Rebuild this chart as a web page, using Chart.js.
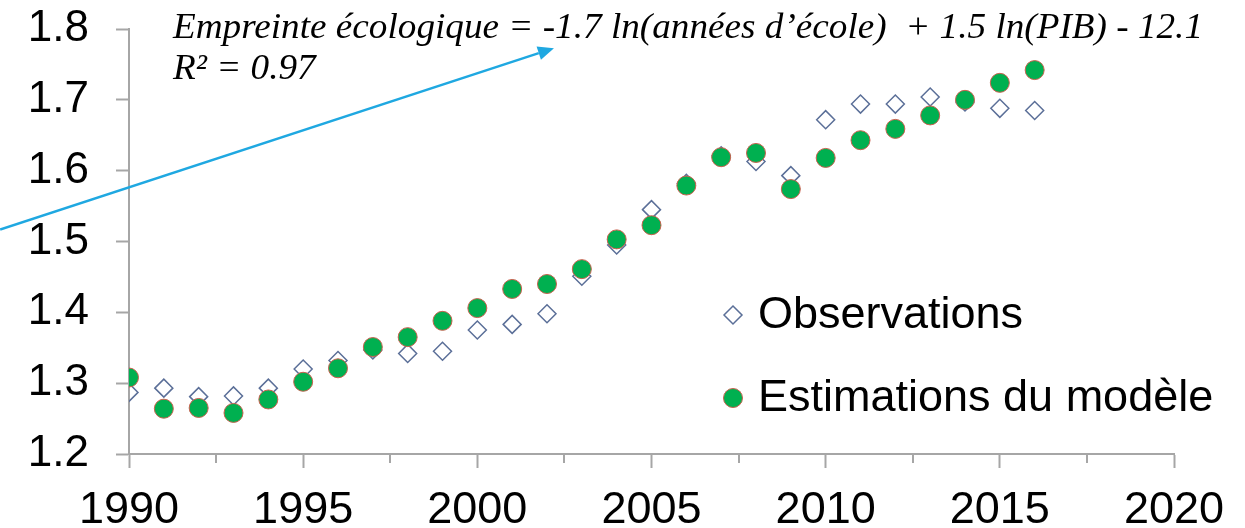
<!DOCTYPE html>
<html>
<head>
<meta charset="utf-8">
<script src="https://cdn.jsdelivr.net/npm/chart.js@4/dist/chart.umd.min.js"></script>
<style>
    html, body { margin: 0; padding: 0; background: #fff; }
    #wrap { width: 1245px; height: 528px; position: relative; }
</style>
</head>
<body>
<div id="wrap"><canvas id="footprintChart"></canvas></div>
<script>
// years 1990 - 2016
const years = [1990, 1991, 1992, 1993, 1994, 1995, 1996, 1997, 1998, 1999, 2000, 2001, 2002, 2003,
    2004, 2005, 2006, 2007, 2008, 2009, 2010, 2011, 2012, 2013, 2014, 2015, 2016];
const observations = [1.287, 1.293, 1.281, 1.282, 1.293, 1.320, 1.332, 1.347, 1.342, 1.345, 1.375, 1.383, 1.398, 1.451,
    1.495, 1.545, 1.582, 1.621, 1.613, 1.593, 1.672, 1.694, 1.694, 1.704, 1.697, 1.688, 1.685];
const estimations = [1.308, 1.264, 1.265, 1.258, 1.277, 1.302, 1.321, 1.351, 1.365, 1.388, 1.406, 1.433, 1.440, 1.461,
    1.503, 1.523, 1.579, 1.619, 1.625, 1.574, 1.618, 1.643, 1.659, 1.678, 1.700, 1.724, 1.742];
const seriesLabels = ['Observations', 'Estimations du modèle'];
const xRange = [1990, 2020];
const yRange = [1.2, 1.8];

const equationText = 'Empreinte écologique = -1.7 ln(années d’école)  + 1.5 ln(PIB) - 12.1';
const r2Text = 'R² = 0.97';
// arrow in data units (tail outside the plot on the left)
const arrowFrom = { x: 1986.3, y: 1.517 };
const arrowTo = { x: 2002.2, y: 1.773 };

const axisColor = '#a6a6a6';
const toPoints = (vals) => vals.map((v, i) => ({ x: years[i], y: v }));

// minor x ticks, legend, equation and arrow
const extrasPlugin = {
    id: 'extras',
    afterDraw(chart) {
        const ctx = chart.ctx;
        const xs = chart.scales.x, ys = chart.scales.y;
        const bottom = chart.chartArea.bottom;

        ctx.save();
        ctx.strokeStyle = axisColor;
        ctx.lineWidth = 2;
        for (let v = xRange[0] + 2.5; v < xRange[1]; v += 5) {
            const px = Math.round(xs.getPixelForValue(v));
            ctx.beginPath();
            ctx.moveTo(px, bottom);
            ctx.lineTo(px, bottom + 9);
            ctx.stroke();
        }
        ctx.restore();

        // legend
        ctx.save();
        chart.data.datasets.forEach((ds, i) => {
            const cy = 315 + i * 83;
            ctx.beginPath();
            if (ds.pointStyle === 'rectRot') {
                ctx.moveTo(733, cy - 9); ctx.lineTo(742, cy); ctx.lineTo(733, cy + 9); ctx.lineTo(724, cy);
                ctx.closePath();
            } else {
                ctx.arc(733, cy, 9.5, 0, Math.PI * 2);
            }
            ctx.fillStyle = ds.backgroundColor;
            ctx.fill();
            ctx.lineWidth = ds.borderWidth;
            ctx.strokeStyle = ds.borderColor;
            ctx.stroke();
            ctx.fillStyle = '#000';
            ctx.font = '45px "Liberation Sans", Arial, sans-serif';
            ctx.textBaseline = 'middle';
            ctx.textAlign = 'left';
            ctx.fillText(ds.label, 758, cy + 1);
        });
        ctx.restore();

        // equation text (stretched horizontally to the original width)
        ctx.save();
        ctx.font = 'italic 35px "Liberation Serif", "Times New Roman", serif';
        ctx.fillStyle = '#000';
        ctx.textBaseline = 'alphabetic';
        const sx = 1030 / ctx.measureText(equationText).width;
        ctx.translate(173, 0);
        ctx.scale(sx, 1);
        ctx.fillText(equationText, 0, 38);
        ctx.fillText(r2Text, 0, 79);
        ctx.restore();

        // arrow
        const x0 = xs.getPixelForValue(arrowFrom.x), y0 = ys.getPixelForValue(arrowFrom.y);
        const x1 = xs.getPixelForValue(arrowTo.x), y1 = ys.getPixelForValue(arrowTo.y);
        const ang = Math.atan2(y1 - y0, x1 - x0);
        const headLen = 16, headW = 7;
        ctx.save();
        ctx.strokeStyle = '#1fa8e1';
        ctx.fillStyle = '#1fa8e1';
        ctx.lineWidth = 2.5;
        ctx.beginPath();
        ctx.moveTo(x0, y0);
        ctx.lineTo(x1 - Math.cos(ang) * headLen, y1 - Math.sin(ang) * headLen);
        ctx.stroke();
        ctx.beginPath();
        ctx.moveTo(x1, y1);
        ctx.lineTo(x1 - Math.cos(ang) * headLen - Math.sin(ang) * headW, y1 - Math.sin(ang) * headLen + Math.cos(ang) * headW);
        ctx.lineTo(x1 - Math.cos(ang) * headLen + Math.sin(ang) * headW, y1 - Math.sin(ang) * headLen - Math.cos(ang) * headW);
        ctx.closePath();
        ctx.fill();
        ctx.restore();
    }
};

new Chart(document.getElementById('footprintChart'), {
    type: 'scatter',
    data: {
        datasets: [
            {
                label: seriesLabels[0],
                data: toPoints(observations),
                pointStyle: 'rectRot',
                pointRadius: 9,
                pointHoverRadius: 9,
                backgroundColor: 'rgba(255,255,255,0)',
                borderColor: '#5b6f98',
                borderWidth: 1.5,
                order: 2
            },
            {
                label: seriesLabels[1],
                data: toPoints(estimations),
                pointStyle: 'circle',
                pointRadius: 9.5,
                pointHoverRadius: 9.5,
                backgroundColor: '#00b050',
                borderColor: '#c8604e',
                borderWidth: 1,
                order: 1
            }
        ]
    },
    options: {
        responsive: true,
        maintainAspectRatio: false,
        animation: false,
        layout: { padding: { top: 29, right: 71, left: 0, bottom: 0 } },
        plugins: { legend: { display: false }, tooltip: { enabled: false } },
        scales: {
            x: {
                type: 'linear',
                min: xRange[0],
                max: xRange[1],
                afterFit: (scale) => { scale.height = 74; },
                border: { display: true, color: axisColor, width: 2 },
                grid: { drawOnChartArea: false, drawTicks: true, tickLength: 14, tickColor: axisColor, tickWidth: 2 },
                ticks: {
                    stepSize: 5,
                    autoSkip: false,
                    maxRotation: 0,
                    padding: 16,
                    color: '#000',
                    font: { family: '"Liberation Sans", Arial, sans-serif', size: 45 },
                    callback: (v) => String(v)
                }
            },
            y: {
                type: 'linear',
                min: yRange[0],
                max: yRange[1],
                afterFit: (scale) => {
                    scale.width = 129;
                    scale.paddingTop = 0;
                    scale.paddingBottom = 0;
                },
                border: { display: true, color: axisColor, width: 2 },
                grid: { drawOnChartArea: false, drawTicks: true, tickLength: 13, tickColor: axisColor, tickWidth: 2 },
                ticks: {
                    stepSize: 0.1,
                    padding: 27,
                    color: '#000',
                    font: { family: '"Liberation Sans", Arial, sans-serif', size: 44, lineHeight: 1 },
                    callback: (v) => Number(v).toFixed(1)
                }
            }
        }
    },
    plugins: [extrasPlugin]
});
</script>
</body>
</html>
